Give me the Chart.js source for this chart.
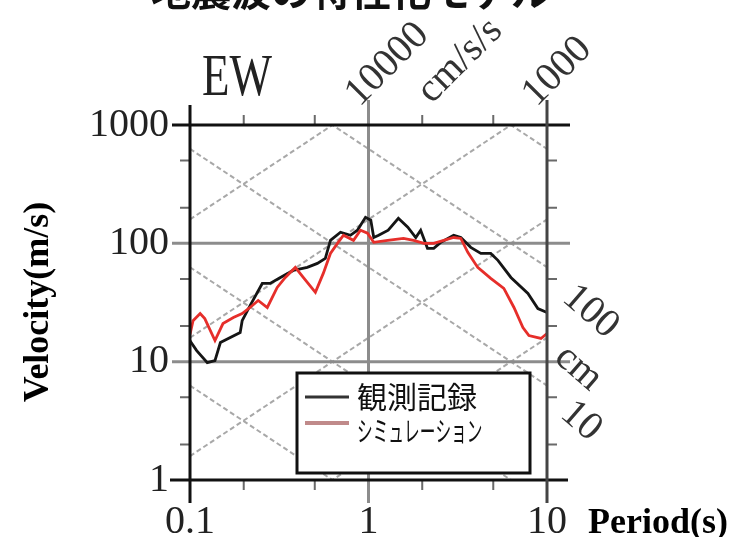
<!DOCTYPE html>
<html>
<head>
<meta charset="utf-8">
<script src="https://cdn.jsdelivr.net/npm/chart.js@4.4.0/dist/chart.umd.min.js"></script>
<style>
  html, body { margin: 0; padding: 0; background: #fff; }
  #wrap { width: 742px; height: 537px; }
</style>
</head>
<body>
<div id="wrap"><canvas id="spec" width="742" height="537"></canvas></div>
<script>
// ---- data (period in s, velocity) ----
const periodObs = [0.1, 0.109, 0.125, 0.138, 0.148, 0.191, 0.196, 0.217, 0.254, 0.281, 0.321, 0.379, 0.454, 0.517, 0.573, 0.612, 0.697, 0.792, 0.867, 0.962, 1.03, 1.07, 1.14, 1.29, 1.47, 1.66, 1.84, 1.96, 2.14, 2.32, 2.54, 3.0, 3.29, 3.74, 4.26, 4.84, 5.31, 6.28, 7.82, 8.89, 10];
const velObs    = [15, 12.4, 9.8, 10.2, 14.5, 17.6, 22.2, 29.8, 45.8, 45.8, 51.5, 59.0, 62.6, 67.7, 74.6, 106, 124, 117, 129, 166, 157, 112, 117, 129, 163, 137, 112, 129, 90.8, 90.8, 102, 117, 112, 92.5, 82.2, 82.2, 71.8, 51.5, 37.7, 28.1, 26.0];

const periodSim = [0.1, 0.104, 0.114, 0.121, 0.138, 0.153, 0.175, 0.196, 0.217, 0.241, 0.271, 0.308, 0.342, 0.389, 0.431, 0.504, 0.558, 0.612, 0.670, 0.724, 0.824, 0.902, 0.987, 1.07, 1.28, 1.57, 1.79, 2.04, 2.32, 2.64, 3.0, 3.29, 3.6, 4.09, 4.84, 5.73, 6.53, 7.33, 7.92, 9.25, 10];
const velSim    = [17, 22.2, 25.5, 23.1, 15.1, 21.0, 23.6, 25.5, 28.7, 32.9, 28.7, 42.4, 51.5, 62.6, 51.5, 38.5, 55.7, 82.2, 100, 117, 106, 129, 122, 102, 106, 110, 106, 100, 100, 106, 112, 110, 84.0, 62.6, 50.5, 41.6, 28.7, 19.4, 16.6, 15.7, 17.3];

const xTicks = [0.1, 1, 10];
const xTickLabels = ['0.1', '1', '10'];
const yTicks = [1, 10, 100, 1000];
const yTickLabels = ['1', '10', '100', '1000'];
const xMinor = [0.2, 0.5, 2, 5];
const yMinor = [2, 5, 20, 50, 200, 500];

// tripartite guide lines
const accelLines = [10, 100, 1000, 10000];   // cm/s/s
const dispLines = [0.1, 1, 10, 100, 1000];   // cm

const seriesNames = ['観測記録', 'シミュレーション'];
const titleText = '地震波の特性化モデル';

function toPoints(ts, vs) {
    return ts.map((t, i) => ({ x: t, y: vs[i] }));
}

// ---- tripartite grid, gray grid lines, frame and ticks ----
const tripartite = {
    id: 'tripartite',
    beforeDatasetsDraw(chart) {
        const { ctx, chartArea: a, scales: { x, y } } = chart;
        const t0 = 0.1, t1 = 10;

        ctx.save();
        ctx.beginPath();
        ctx.rect(a.left, a.top, a.right - a.left, a.bottom - a.top);
        ctx.clip();
        ctx.strokeStyle = '#a8a8a8';
        ctx.lineWidth = 2;
        ctx.setLineDash([5, 3]);
        accelLines.forEach(A => {
            ctx.beginPath();
            ctx.moveTo(x.getPixelForValue(t0), y.getPixelForValue(A * t0 / (2 * Math.PI)));
            ctx.lineTo(x.getPixelForValue(t1), y.getPixelForValue(A * t1 / (2 * Math.PI)));
            ctx.stroke();
        });
        dispLines.forEach(D => {
            ctx.beginPath();
            ctx.moveTo(x.getPixelForValue(t0), y.getPixelForValue(2 * Math.PI * D / t0));
            ctx.lineTo(x.getPixelForValue(t1), y.getPixelForValue(2 * Math.PI * D / t1));
            ctx.stroke();
        });
        ctx.restore();

        // gray grid at 10, 100 and T = 1
        ctx.save();
        ctx.strokeStyle = '#8c8c8c';
        ctx.lineWidth = 3;
        [10, 100].forEach(v => {
            const py = y.getPixelForValue(v);
            ctx.beginPath();
            ctx.moveTo(a.left - 18, py);
            ctx.lineTo(a.right + 23, py);
            ctx.stroke();
        });
        const px1 = x.getPixelForValue(1);
        ctx.beginPath();
        ctx.moveTo(px1, a.top - 25);
        ctx.lineTo(px1, a.bottom + 23);
        ctx.stroke();
        ctx.restore();
    },
    afterDatasetsDraw(chart) {
        const { ctx, chartArea: a, scales: { x, y } } = chart;
        ctx.save();
        // minor ticks
        ctx.strokeStyle = '#6a6a6a';
        ctx.lineWidth = 2;
        xMinor.forEach(t => {
            const px = x.getPixelForValue(t);
            ctx.beginPath();
            ctx.moveTo(px, a.bottom); ctx.lineTo(px, a.bottom + 10);
            ctx.moveTo(px, a.top); ctx.lineTo(px, a.top - 10);
            ctx.stroke();
        });
        yMinor.forEach(v => {
            const py = y.getPixelForValue(v);
            ctx.beginPath();
            ctx.moveTo(a.left - 10, py); ctx.lineTo(a.left, py);
            ctx.moveTo(a.right, py); ctx.lineTo(a.right + 10, py);
            ctx.stroke();
        });

        // frame
        ctx.lineWidth = 3;
        ctx.strokeStyle = '#111';
        ctx.beginPath();
        ctx.moveTo(a.left - 18, a.top); ctx.lineTo(a.right + 23, a.top);
        ctx.moveTo(a.left - 20, a.bottom); ctx.lineTo(a.right + 21, a.bottom);
        ctx.moveTo(a.left, a.top - 20); ctx.lineTo(a.left, a.bottom + 23);
        ctx.stroke();
        ctx.strokeStyle = '#444';
        ctx.beginPath();
        ctx.moveTo(a.right, a.top - 25); ctx.lineTo(a.right, a.bottom + 23);
        ctx.stroke();
        ctx.restore();
    },
    afterDraw(chart) {
        const { ctx } = chart;
        ctx.save();

        // clipped title at the very top
        ctx.fillStyle = '#111';
        ctx.font = 'bold 40px "Noto Sans CJK JP"';
        ctx.textAlign = 'center';
        ctx.textBaseline = 'alphabetic';
        ctx.fillText(titleText, 351, 6);

        // EW
        ctx.save();
        ctx.translate(202, 95);
        ctx.scale(0.75, 1);
        ctx.font = '60px "Liberation Serif"';
        ctx.textAlign = 'left';
        ctx.fillStyle = '#222';
        ctx.fillText('EW', 0, 0);
        ctx.restore();

        // rotated guide-line labels
        ctx.font = '40px "Liberation Serif"';
        ctx.fillStyle = '#333';
        ctx.textAlign = 'left';
        ctx.textBaseline = 'middle';
        const rot = (txt, px, py, deg) => {
            ctx.save();
            ctx.translate(px, py);
            ctx.rotate(deg * Math.PI / 180);
            ctx.fillText(txt, 0, 0);
            ctx.restore();
        };
        rot('10000', 352, 100, -45);
        rot('cm/s/s', 424, 97, -45);
        rot('1000', 529, 100, -45);
        rot('100', 568, 292, 41);
        rot('cm', 560, 352, 41);
        rot('10', 566, 408, 41);

        // axis titles
        ctx.fillStyle = '#000';
        ctx.font = 'bold 36px "Liberation Serif"';
        ctx.textBaseline = 'alphabetic';
        ctx.textAlign = 'left';
        ctx.fillText('Period(s)', 588, 533);
        ctx.save();
        ctx.translate(39, 302);
        ctx.rotate(-Math.PI / 2);
        ctx.textAlign = 'center';
        ctx.textBaseline = 'middle';
        ctx.fillText('Velocity(m/s)', 0, 0);
        ctx.restore();

        // legend box
        ctx.fillStyle = '#fff';
        ctx.fillRect(297, 373, 233, 100);
        ctx.strokeStyle = '#111';
        ctx.lineWidth = 3;
        ctx.strokeRect(297, 373, 233, 100);
        ctx.lineWidth = 3;
        ctx.strokeStyle = '#333';
        ctx.beginPath(); ctx.moveTo(305, 397); ctx.lineTo(349, 397); ctx.stroke();
        ctx.lineWidth = 4;
        ctx.strokeStyle = '#c08a8a';
        ctx.beginPath(); ctx.moveTo(305, 423); ctx.lineTo(349, 423); ctx.stroke();
        ctx.fillStyle = '#111';
        ctx.textAlign = 'left';
        ctx.textBaseline = 'middle';
        ctx.font = '30px "Noto Sans CJK JP"';
        ctx.fillText(seriesNames[0], 357, 397);
        ctx.save();
        ctx.translate(357, 431);
        ctx.scale(0.56, 1);
        ctx.font = '28px "Noto Sans CJK JP"';
        ctx.fillText(seriesNames[1], 0, 0);
        ctx.restore();

        ctx.restore();
    }
};

const tickFont = { family: '"Liberation Serif", "Times New Roman", serif', size: 40 };

new Chart(document.getElementById('spec'), {
    type: 'scatter',
    data: {
        datasets: [
            {
                label: seriesNames[1],
                data: toPoints(periodSim, velSim),
                showLine: true,
                borderColor: '#e62e2a',
                borderWidth: 2.8,
                pointRadius: 0,
                tension: 0,
                order: 0
            },
            {
                label: seriesNames[0],
                data: toPoints(periodObs, velObs),
                showLine: true,
                borderColor: '#151515',
                borderWidth: 2.8,
                pointRadius: 0,
                tension: 0,
                order: 1
            }
        ]
    },
    options: {
        responsive: false,
        animation: false,
        devicePixelRatio: 1,
        layout: { padding: { top: 125, right: 195, left: 0, bottom: 0 } },
        plugins: {
            legend: { display: false },
            tooltip: { enabled: false }
        },
        scales: {
            x: {
                type: 'logarithmic',
                min: 0.1,
                max: 10,
                grid: { display: false, drawTicks: false },
                border: { display: false },
                afterBuildTicks: axis => { axis.ticks = xTicks.map(v => ({ value: v })); },
                afterFit: axis => { axis.height = 57; },
                ticks: {
                    autoSkip: false,
                    maxRotation: 0,
                    padding: 18,
                    color: '#222',
                    font: tickFont,
                    callback: (v, i) => xTickLabels[i]
                }
            },
            y: {
                type: 'logarithmic',
                min: 1,
                max: 1000,
                grid: { display: false, drawTicks: false },
                border: { display: false },
                afterBuildTicks: axis => { axis.ticks = yTicks.map(v => ({ value: v })); },
                afterFit: axis => { axis.width = 190; },
                ticks: {
                    autoSkip: false,
                    padding: 21,
                    color: '#222',
                    font: tickFont,
                    callback: (v, i) => yTickLabels[i]
                }
            }
        }
    },
    plugins: [tripartite]
});
</script>
</body>
</html>
